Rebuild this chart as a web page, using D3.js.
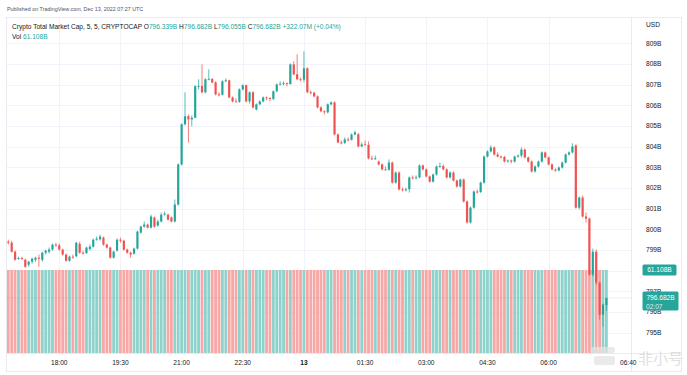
<!DOCTYPE html>
<html><head><meta charset="utf-8">
<script src="https://cdn.jsdelivr.net/npm/d3@7"></script>
<style>html,body{margin:0;padding:0;background:#fff;}svg{display:block;font-family:"Liberation Sans",Arial,sans-serif;}</style>
</head><body><svg id="c" width="687" height="375"></svg>
<script>
const startTime = "2022-12-12T16:45:00Z";
const barMinutes = 5;
const open = [799.40,799.35,798.92,798.58,798.61,798.53,798.29,798.43,798.53,798.63,798.53,798.87,798.92,799.02,799.26,799.23,799.02,798.78,798.48,798.68,
798.70,799.30,798.87,798.85,799.05,799.16,799.50,799.52,799.60,799.26,799.12,798.63,798.97,799.50,799.45,799.02,798.87,798.82,799.07,799.84,
800.13,800.23,800.08,800.57,800.18,800.38,800.71,800.71,800.57,800.38,801.20,803.14,805.08,805.47,805.32,805.40,806.92,806.94,806.63,807.26,
807.28,807.11,806.53,806.51,807.16,807.21,806.38,806.19,806.17,806.77,806.97,806.19,806.63,805.80,806.05,806.19,806.38,806.36,806.31,806.68,
807.01,807.04,807.07,807.03,807.98,807.50,807.26,807.24,807.79,806.63,806.61,806.43,805.90,805.71,805.66,806.05,806.14,804.59,804.20,804.18,
804.35,804.33,804.59,804.60,804.01,804.11,804.09,803.43,803.41,803.28,803.14,802.90,802.88,803.23,802.26,802.75,801.93,801.91,801.94,802.51,
802.49,802.52,803.09,802.90,802.56,802.31,802.65,803.04,803.06,802.90,802.51,802.75,802.36,802.07,802.41,801.35,800.33,801.05,801.83,801.81,
802.26,803.52,803.77,803.96,803.62,803.52,803.50,803.28,803.33,803.28,803.52,803.57,803.86,803.48,803.28,802.80,803.04,803.28,803.72,803.48,
803.14,802.90,802.85,802.99,803.23,803.62,803.72,804.06,801.05,801.54,800.62,800.52,797.81,798.92,797.42,795.87,796.339];
const high = [799.50,799.45,798.97,798.68,798.68,798.58,798.48,798.63,798.68,798.78,798.92,799.02,799.12,799.31,799.35,799.31,799.07,798.82,798.73,798.78,
799.40,799.40,798.97,799.16,799.26,799.55,799.65,799.74,799.65,799.31,799.16,798.97,799.55,799.60,799.50,799.07,798.92,799.12,799.94,800.18,
800.38,800.28,800.71,800.62,800.47,800.81,800.86,800.76,800.62,801.44,803.19,805.13,806.63,805.56,805.51,806.97,807.26,807.98,807.31,807.74,
807.31,807.16,806.63,807.21,807.31,807.24,806.43,806.34,806.82,807.01,807.01,806.68,806.68,806.09,806.24,806.43,806.43,806.38,806.72,807.06,
807.16,807.16,807.11,808.03,808.13,808.47,807.35,808.61,807.84,806.72,806.66,806.48,805.95,805.76,806.09,806.19,806.19,804.64,804.30,804.45,
804.45,804.64,804.78,804.66,804.20,804.30,804.25,803.57,803.57,803.33,803.19,803.04,803.38,803.28,802.80,802.80,802.02,802.02,802.56,802.61,
802.61,803.14,803.14,802.95,802.60,802.70,803.09,803.23,803.14,802.95,802.80,802.80,802.41,802.46,802.46,801.40,801.10,801.88,801.93,802.31,
803.57,803.82,804.06,804.01,803.72,803.57,803.55,803.38,803.38,803.57,803.62,803.96,803.91,803.52,803.33,803.09,803.33,803.77,803.77,803.52,
803.19,802.95,803.04,803.28,803.67,803.77,804.16,804.11,801.59,801.64,800.81,800.57,799.07,799.02,797.47,796.40,796.682];
const low = [799.26,798.87,798.48,798.53,798.53,798.14,798.19,798.34,798.43,798.19,798.43,798.78,798.82,798.97,799.16,798.97,798.73,798.43,798.43,798.58,
798.65,798.82,798.78,798.82,798.97,799.12,799.45,799.45,799.21,799.07,798.58,798.58,798.92,799.35,798.97,798.82,798.63,798.78,799.02,799.79,
800.08,800.04,800.04,800.08,800.13,800.33,800.66,800.42,800.33,800.33,801.15,803.09,805.03,804.20,804.98,805.37,806.77,806.58,806.58,807.21,
807.06,806.48,806.43,806.48,807.11,806.34,806.14,806.14,806.12,806.72,806.14,806.09,805.85,805.75,806.00,806.14,806.24,806.19,806.24,806.63,
806.97,806.97,806.92,807.00,807.45,807.21,807.16,807.11,806.58,806.53,806.38,805.85,805.66,805.56,805.61,806.00,804.54,804.16,804.11,804.13,
804.25,804.30,804.55,803.96,803.98,804.06,803.38,803.36,803.36,803.09,802.85,802.84,802.84,802.21,802.21,801.88,801.83,801.83,801.78,802.41,
802.41,802.46,802.85,802.51,802.26,802.26,802.60,802.99,802.85,802.46,802.46,802.31,802.02,802.02,801.30,800.28,800.28,801.00,801.73,801.76,
802.21,803.47,803.72,803.57,803.47,803.43,803.23,803.23,803.19,803.23,803.47,803.47,803.43,803.23,802.75,802.75,802.99,803.23,803.43,803.09,
802.85,802.78,802.80,802.94,803.19,803.57,803.67,801.00,800.96,800.57,800.33,797.76,797.71,797.32,795.63,795.29,796.055];
const close = [799.35,798.92,798.53,798.61,798.58,798.19,798.43,798.58,798.63,798.58,798.87,798.97,799.02,799.26,799.23,799.02,798.78,798.48,798.68,798.65,
799.35,798.87,798.85,799.12,799.16,799.50,799.55,799.65,799.26,799.12,798.63,798.92,799.50,799.45,799.02,798.87,798.78,799.07,799.89,800.13,
800.23,800.08,800.62,800.13,800.38,800.71,800.76,800.47,800.38,801.20,803.14,805.08,805.47,805.32,805.40,806.92,806.94,806.63,807.26,807.28,
807.11,806.53,806.51,807.16,807.21,806.38,806.19,806.17,806.77,806.97,806.19,806.63,805.90,806.05,806.19,806.38,806.36,806.31,806.68,807.01,
807.04,807.07,807.03,807.98,807.50,807.26,807.24,807.79,806.63,806.61,806.43,805.90,805.71,805.69,806.05,806.14,804.59,804.20,804.18,804.35,
804.33,804.59,804.69,804.01,804.11,804.09,803.43,803.41,803.44,803.14,802.90,802.88,803.23,802.26,802.75,801.93,801.91,801.94,802.51,802.49,
802.52,803.09,802.90,802.56,802.31,802.65,803.04,803.06,802.90,802.51,802.75,802.36,802.07,802.41,801.35,800.33,801.05,801.83,801.81,802.26,
803.52,803.77,803.96,803.62,803.52,803.50,803.28,803.33,803.28,803.52,803.57,803.86,803.48,803.28,802.80,803.04,803.28,803.72,803.48,803.14,
802.90,802.85,802.99,803.23,803.62,803.72,804.01,801.05,801.54,800.62,800.52,797.81,798.92,797.42,795.87,796.35993,796.682];
const volume = [61.1,61.1,61.1,61.1,61.1,61.1,61.1,61.1,61.1,61.1,61.1,61.1,61.1,61.1,61.1,61.1,61.1,61.1,61.1,61.1,
61.1,61.1,61.1,61.1,61.1,61.1,61.1,61.1,61.1,61.1,61.1,61.1,61.1,61.1,61.1,61.1,61.1,61.1,61.1,61.1,
61.1,61.1,61.1,61.1,61.1,61.1,61.1,61.1,61.1,61.1,61.1,61.1,61.1,61.1,61.1,61.1,61.1,61.1,61.1,61.1,
61.1,61.1,61.1,61.1,61.1,61.1,61.1,61.1,61.1,61.1,61.1,61.1,61.1,61.1,61.1,61.1,61.1,61.1,61.1,61.1,
61.1,61.1,61.1,61.1,61.1,61.1,61.1,61.1,61.1,61.1,61.1,61.1,61.1,61.1,61.1,61.1,61.1,61.1,61.1,61.1,
61.1,61.1,61.1,61.1,61.1,61.1,61.1,61.1,61.1,61.1,61.1,61.1,61.1,61.1,61.1,61.1,61.1,61.1,61.1,61.1,
61.1,61.1,61.1,61.1,61.1,61.1,61.1,61.1,61.1,61.1,61.1,61.1,61.1,61.1,61.1,61.1,61.1,61.1,61.1,61.1,
61.1,61.1,61.1,61.1,61.1,61.1,61.1,61.1,61.1,61.1,61.1,61.1,61.1,61.1,61.1,61.1,61.1,61.1,61.1,61.1,
61.1,61.1,61.1,61.1,61.1,61.1,61.1,61.1,61.1,61.1,61.1,61.1,61.1,61.1,61.1,61.1,61.108];
const timeTicks = ["2022-12-12T18:00:00Z","2022-12-12T19:30:00Z","2022-12-12T21:00:00Z","2022-12-12T22:30:00Z","2022-12-13T00:00:00Z","2022-12-13T01:30:00Z","2022-12-13T03:00:00Z","2022-12-13T04:30:00Z","2022-12-13T06:00:00Z"];
const timeTickLabels = ["18:00","19:30","21:00","22:30","13","01:30","03:00","04:30","06:00"];
const priceTicks = [795,796,797,798,799,800,801,802,803,804,805,806,807,808,809];
const title = "Crypto Total Market Cap, 5, 5, CRYPTOCAP";
const publishedText = "Published on TradingView.com, Dec 13, 2022 07:27 UTC";
const countdown = "02:07";

const UP = "#26a69a", DOWN = "#ef5350", UPV = "#8fd2cb", DOWNV = "#f7a7a5";
const GRID = "#f0f3fa", BORDER = "#e0e3eb", TXT = "#131722";
const FS = 6.6;

const t0 = new Date(startTime);
const bars = close.map((c, i) => ({t: d3.utcMinute.offset(t0, i * barMinutes), o: open[i], h: high[i], l: low[i], c: c, v: volume[i]}));
const last = bars[bars.length - 1], prev = bars[bars.length - 2];

const x = d3.scaleUtc().domain([bars[0].t, last.t]).range([8.3, 606.4]);
const y = d3.scaleLinear().domain([795, 809]).range([332.7, 43.3]);
const yv = d3.scaleLinear().domain([0, d3.max(volume)]).range([353, 270]);

const svg = d3.select("#c");
svg.append("rect").attr("width", 687).attr("height", 375).attr("fill", "#fff");

// grid
const g = svg.append("g");
g.selectAll("line.h").data(priceTicks).join("line")
  .attr("x1", 6.5).attr("x2", 631.5).attr("y1", d => Math.round(y(d)) + 0.5).attr("y2", d => Math.round(y(d)) + 0.5)
  .attr("stroke", GRID).attr("stroke-width", 1);
g.selectAll("line.v").data(timeTicks).join("line")
  .attr("y1", 17.5).attr("y2", 353).attr("x1", d => Math.round(x(new Date(d))) + 0.5).attr("x2", d => Math.round(x(new Date(d))) + 0.5)
  .attr("stroke", GRID).attr("stroke-width", 1);

// volume
const bw = 2.8;
svg.append("g").selectAll("rect").data(bars).join("rect")
  .attr("x", d => x(d.t) - bw / 2).attr("width", bw)
  .attr("y", d => yv(d.v)).attr("height", d => yv(0) - yv(d.v))
  .attr("fill", d => d.c >= d.o ? UPV : DOWNV);

// candles
const cg = svg.append("g");
cg.selectAll("line").data(bars).join("line")
  .attr("x1", d => x(d.t)).attr("x2", d => x(d.t))
  .attr("y1", d => y(d.h)).attr("y2", d => y(d.l))
  .attr("stroke", d => d.c >= d.o ? UP : DOWN).attr("stroke-width", 0.75);
const cw = 2.2;
cg.selectAll("rect").data(bars).join("rect")
  .attr("x", d => x(d.t) - cw / 2).attr("width", cw)
  .attr("y", d => y(Math.max(d.o, d.c)))
  .attr("height", d => Math.max(0.9, Math.abs(y(d.o) - y(d.c))))
  .attr("fill", d => d.c >= d.o ? UP : DOWN);

// last price line
svg.append("line").attr("x1", 6.5).attr("x2", 631.5).attr("y1", y(last.c)).attr("y2", y(last.c))
  .attr("stroke", UP).attr("stroke-opacity", 0.5).attr("stroke-width", 0.7).attr("stroke-dasharray", "1,2");

// frame
svg.append("rect").attr("x", 6.5).attr("y", 17.5).attr("width", 675).attr("height", 354).attr("fill", "none").attr("stroke", BORDER).attr("stroke-width", 0.7);
svg.append("line").attr("x1", 631.5).attr("x2", 631.5).attr("y1", 17.5).attr("y2", 371.5).attr("stroke", BORDER).attr("stroke-width", 0.7);
svg.append("line").attr("x1", 6.5).attr("x2", 681.5).attr("y1", 353.5).attr("y2", 353.5).attr("stroke", BORDER).attr("stroke-width", 0.7);

// price axis (labels hidden behind the value badges are skipped)
const volY = yv(last.v);
const ax = svg.append("g").attr("font-size", FS).attr("fill", TXT);
ax.selectAll("text").data(priceTicks.filter(d => Math.abs(y(d) - volY) > 6)).join("text")
  .attr("x", 646).attr("y", d => y(d)).attr("dy", "0.35em").text(d => d + "B");
ax.append("text").attr("x", 646).attr("y", 25).attr("dy", "0.35em").text("USD");

// time axis
svg.append("g").attr("font-size", FS).attr("fill", TXT).attr("text-anchor", "middle")
  .selectAll("text").data(timeTicks).join("text")
  .attr("x", d => x(new Date(d))).attr("y", 364.5)
  .attr("font-weight", (d, i) => timeTickLabels[i] === "13" ? "bold" : null)
  .text((d, i) => timeTickLabels[i]);

// value labels
const fmt = d3.format(".3f");
const vb = svg.append("g");
vb.append("rect").attr("x", 642.5).attr("y", volY - 5.5).attr("width", 34).attr("height", 11).attr("rx", 1.5).attr("fill", UP);
vb.append("text").attr("x", 659.5).attr("y", volY).attr("dy", "0.35em").attr("text-anchor", "middle").attr("font-size", FS).attr("fill", "#fff").text(fmt(last.v) + "B");
vb.append("rect").attr("x", 642.5).attr("y", y(last.c) - 6.5).attr("width", 36).attr("height", 19).attr("rx", 1.5).attr("fill", UP);
vb.append("text").attr("x", 660.5).attr("y", y(last.c)).attr("dy", "0.35em").attr("text-anchor", "middle").attr("font-size", FS).attr("fill", "#fff").text(fmt(last.c) + "B");
vb.append("text").attr("x", 646).attr("y", y(last.c) + 8.5).attr("dy", "0.35em").attr("font-size", FS).attr("fill", "#fff").attr("fill-opacity", 0.85).text(countdown);

// header
svg.append("text").attr("x", 7).attr("y", 11).attr("font-size", 5.4).attr("fill", "#50535e").text(publishedText);
const chg = last.c - prev.c;
const hd = svg.append("text").attr("x", 12).attr("y", 28.5).attr("font-size", FS).attr("fill", TXT);
hd.append("tspan").text(title + "  ");
[["O", last.o], ["H", last.h], ["L", last.l], ["C", last.c]].forEach(([k, v]) => {
  hd.append("tspan").attr("fill", TXT).text(k);
  hd.append("tspan").attr("fill", UP).text(fmt(v) + "B  ");
});
hd.append("tspan").attr("fill", UP).text((chg >= 0 ? "+" : "") + (chg * 1000).toFixed(2) + "M (" + (chg >= 0 ? "+" : "") + (chg / prev.c * 100).toFixed(2) + "%)");
const vl = svg.append("text").attr("x", 12).attr("y", 39).attr("font-size", FS).attr("fill", TXT);
vl.append("tspan").text("Vol  ");
vl.append("tspan").attr("fill", UP).text(fmt(last.v) + "B");

// watermark
const wm = svg.append("g").attr("opacity", 0.75);
wm.append("rect").attr("x", 591).attr("y", 347).attr("width", 24).attr("height", 6).attr("rx", 2).attr("fill", "#e4e4e4");
wm.append("rect").attr("x", 594).attr("y", 356).attr("width", 21).attr("height", 9).attr("rx", 2).attr("fill", "#e4e4e4");
wm.append("text").attr("x", 638).attr("y", 364).attr("font-family", "Noto Sans CJK SC").attr("font-size", 15).attr("fill", "#d6d6d6").text("非小号");
svg.append("text").attr("x", 620).attr("y", 364.5).attr("font-size", FS).attr("fill", TXT).text("06:40");
</script></body></html>
